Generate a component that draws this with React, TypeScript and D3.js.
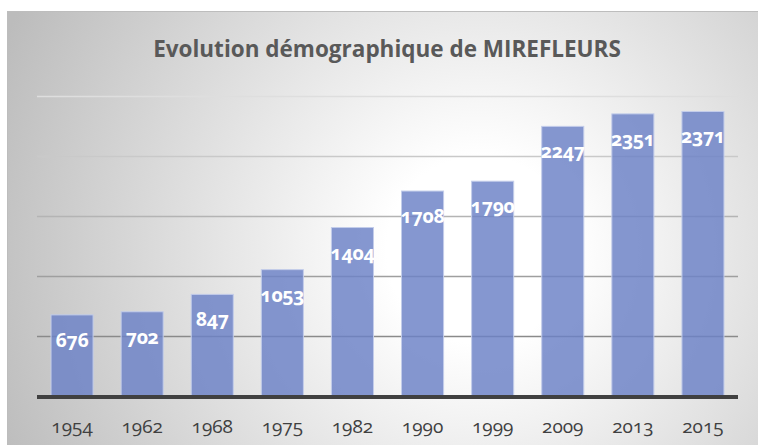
import React, { useRef, useEffect } from 'react';
import * as d3 from 'd3';

const years = ['1954', '1962', '1968', '1975', '1982', '1990', '1999', '2009', '2013', '2015'];
const population = [676, 702, 847, 1053, 1404, 1708, 1790, 2247, 2351, 2371];
const gridValues = [500, 1000, 1500, 2000, 2500];
const title = 'Evolution démographique de MIREFLEURS';

const W = 758;
const H = 445;
const FONT = '"Open Sans", "Noto Sans", sans-serif';

const App: React.FC = () => {
  const ref = useRef<SVGSVGElement>(null);
  const margin = { top: 96, right: 20, bottom: 49, left: 37 };

  useEffect(() => {
    if (!ref.current) {
      return;
    }
    const svg = d3.select(ref.current);
    svg.selectAll('*').remove();

    const defs = svg.append('defs');
    const grad = defs.append('radialGradient')
      .attr('id', 'bg')
      .attr('gradientUnits', 'userSpaceOnUse')
      .attr('cx', 480).attr('cy', 250).attr('r', 520);
    grad.append('stop').attr('offset', 0).attr('stop-color', '#ffffff');
    grad.append('stop').attr('offset', 0.18).attr('stop-color', '#ffffff');
    grad.append('stop').attr('offset', 1).attr('stop-color', '#bcbcbc');

    svg.append('rect')
      .attr('x', 0).attr('y', 0).attr('width', W).attr('height', H)
      .attr('fill', '#ffffff');

    svg.append('rect')
      .attr('x', 7.5).attr('y', 11.5).attr('width', W + 10).attr('height', H)
      .attr('fill', 'url(#bg)')
      .attr('stroke', '#bdbdbd')
      .attr('stroke-width', 1);

    const x = d3.scaleBand<string>()
      .domain(years)
      .range([margin.left, W - margin.right])
      .paddingInner(0.4)
      .paddingOuter(0.2);

    const y = d3.scaleLinear()
      .domain([0, 2500])
      .range([H - margin.bottom, margin.top]);

    // gridlines fade out toward the top
    const gridColor = d3.interpolateRgb('#8a8a8a', '#dedede');
    svg.append('g')
      .selectAll('line')
      .data(gridValues)
      .join('line')
      .attr('x1', margin.left)
      .attr('x2', W - margin.right)
      .attr('y1', d => Math.round(y(d)) + 0.5)
      .attr('y2', d => Math.round(y(d)) + 0.5)
      .attr('stroke', (_, i) => gridColor(i / (gridValues.length - 1)))
      .attr('stroke-width', 1.5);

    svg.append('g')
      .selectAll('rect')
      .data(population)
      .join('rect')
      .attr('x', (_, i) => x(years[i])!)
      .attr('y', d => y(d))
      .attr('width', x.bandwidth())
      .attr('height', d => y(0) - y(d))
      .attr('fill', 'rgb(108,130,198)')
      .attr('fill-opacity', 0.83)
      .attr('stroke', '#c3cdea')
      .attr('stroke-width', 1);

    svg.append('line')
      .attr('x1', margin.left)
      .attr('x2', W - margin.right)
      .attr('y1', y(0) + 1)
      .attr('y2', y(0) + 1)
      .attr('stroke', '#404040')
      .attr('stroke-width', 4);

    svg.append('g')
      .selectAll('text')
      .data(population)
      .join('text')
      .attr('x', (_, i) => x(years[i])! + x.bandwidth() / 2)
      .attr('y', d => y(d) + 32)
      .attr('text-anchor', 'middle')
      .attr('fill', '#ffffff')
      .attr('font-family', FONT)
      .attr('font-weight', 700)
      .attr('font-size', 19.5)
      .attr('letter-spacing', -0.3)
      .style('font-variant-numeric', 'oldstyle-nums')
      .text(d => String(d));

    const xAxis = svg.append('g')
      .attr('transform', `translate(0,${y(0)})`)
      .call(d3.axisBottom(x).tickSize(0).tickPadding(24));
    xAxis.select('.domain').remove();
    xAxis.selectAll('text')
      .attr('fill', '#404040')
      .attr('font-family', FONT)
      .attr('font-size', 19)
      .style('font-variant-numeric', 'oldstyle-nums');

    svg.append('text')
      .attr('x', 387)
      .attr('y', 57)
      .attr('text-anchor', 'middle')
      .attr('fill', '#595959')
      .attr('font-family', FONT)
      .attr('font-weight', 700)
      .attr('font-size', 22.5)
      .text(title);
  }, []);

  return (
    <svg
      ref={ref}
      width={W}
      height={H}
      viewBox={`0 0 ${W} ${H}`}
      style={{ position: 'absolute', left: 0, top: 0, display: 'block' }}
    ></svg>
  );
};

export default App;
